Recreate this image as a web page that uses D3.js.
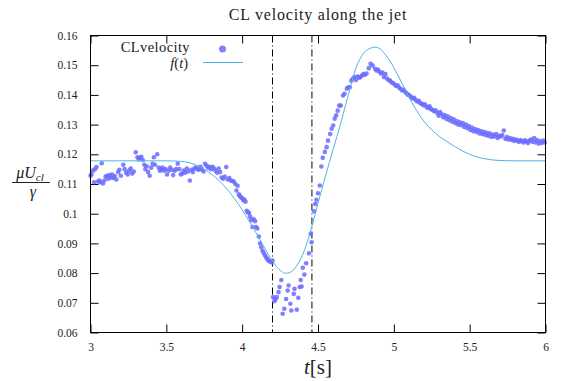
<!DOCTYPE html>
<html>
<head>
<meta charset="utf-8">
<script src="https://cdn.jsdelivr.net/npm/d3@7"></script>
<style>
  html, body { margin: 0; padding: 0; background: #fff; }
  svg { display: block; }
  text { font-family: "Liberation Serif", "DejaVu Serif", serif; fill: #222; }
</style>
</head>
<body>
<svg id="chart" width="561" height="381"></svg>
<script>
// Measured centre-line velocity (time in s, dimensionless velocity)
const timeData = [
  3.000,3.006,3.016,3.024,3.030,3.040,3.050,3.058,3.066,3.074,3.082,3.092,3.100,3.110,3.118,3.126,3.134,3.142,3.150,3.160,
  3.170,3.183,3.190,3.200,3.216,3.225,3.235,3.245,3.255,3.265,3.275,3.285,3.298,3.310,3.318,3.325,3.335,3.345,3.355,3.362,
  3.370,3.380,3.390,3.400,3.410,3.418,3.425,3.440,3.450,3.458,3.465,3.475,3.485,3.495,3.505,3.515,3.525,3.535,3.545,3.555,
  3.565,3.575,3.585,3.595,3.605,3.615,3.625,3.635,3.645,3.655,3.665,3.675,3.685,3.695,3.705,3.715,3.725,3.735,3.745,3.755,
  3.765,3.775,3.785,3.795,3.805,3.815,3.825,3.835,3.845,3.855,3.865,3.875,3.885,3.895,3.905,3.915,3.925,3.935,3.945,3.955,
  3.962,3.970,3.978,3.985,3.992,4.000,4.008,4.015,4.022,4.030,4.038,4.045,4.052,4.060,4.068,4.075,4.085,4.092,4.100,4.110,
  4.118,4.126,4.134,4.142,4.150,4.158,4.165,4.172,4.180,4.188,4.195,4.200,
  4.204,4.212,4.220,4.228,4.240,4.247,4.258,4.267,4.278,4.290,4.300,4.306,4.318,4.324,4.340,4.345,4.360,4.370,4.380,4.386,
  4.392,4.400,4.410,4.422,4.440,4.452,4.458,4.474,4.482,4.490,4.500,4.512,4.522,4.531,4.545,4.557,4.566,4.580,4.590,4.600,
  4.610,4.620,4.630,4.640,4.650,4.665,4.675,4.690,4.700,4.710,4.720,4.730,4.740,4.750,4.760,4.770,4.780,4.790,4.800,4.810,
  4.820,4.835,4.847,4.860,4.876,4.885,4.895,4.905,4.915,4.925,4.935,4.945,4.955,4.965,4.975,4.985,4.995,5.005,5.015,5.025,
  5.035,5.045,5.055,5.065,5.075,5.085,5.095,5.105,5.115,5.125,5.135,5.145,5.155,5.165,5.175,5.185,5.195,5.205,5.215,5.225,
  5.235,5.245,5.255,5.265,5.275,5.285,5.295,5.305,5.315,5.325,5.335,5.345,5.355,5.365,5.375,5.385,5.395,5.405,5.415,5.425,
  5.435,5.445,5.455,5.465,5.475,5.485,5.495,5.505,5.515,5.525,5.535,5.545,5.555,5.565,5.575,5.585,5.595,5.605,5.615,5.625,
  5.635,5.645,5.655,5.665,5.675,5.685,5.695,5.705,5.715,5.725,5.735,5.745,5.755,5.765,5.775,5.785,5.795,5.805,5.815,5.825,
  5.835,5.845,5.855,5.865,5.875,5.885,5.895,5.905,5.915,5.925,5.935,5.945,5.955,5.965,5.975,5.985,5.995
];
const velocityData = [
  0.1128,0.1132,0.1145,0.1106,0.1150,0.1157,0.1108,0.1112,0.1106,0.1170,0.1102,0.1112,0.1125,0.1128,0.1118,0.1130,0.1122,0.1132,0.1120,0.1127,
  0.1115,0.1140,0.1148,0.1128,0.1165,0.1150,0.1138,0.1132,0.1145,0.1152,0.1135,0.1142,0.1207,0.1190,0.1183,0.1188,0.1192,0.1181,0.1165,0.1150,
  0.1160,0.1140,0.1128,0.1155,0.1168,0.1190,0.1165,0.1200,0.1155,0.1145,0.1150,0.1155,0.1145,0.1150,0.1132,0.1145,0.1155,0.1148,0.1130,0.1145,
  0.1150,0.1168,0.1150,0.1132,0.1135,0.1145,0.1138,0.1152,0.1142,0.1112,0.1148,0.1140,0.1152,0.1155,0.1150,0.1148,0.1158,0.1150,0.1142,0.1168,
  0.1162,0.1155,0.1158,0.1150,0.1158,0.1152,0.1145,0.1138,0.1152,0.1140,0.1122,0.1118,0.1125,0.1157,0.1115,0.1120,0.1112,0.1110,0.1108,0.1100,
  0.1078,0.1094,0.1065,0.1060,0.1055,0.1052,0.1045,0.1048,0.1040,0.1010,0.1005,0.1002,0.0990,0.0978,0.0955,0.0982,0.0975,0.0955,0.0950,0.0923,
  0.0900,0.0887,0.0875,0.0868,0.0860,0.0853,0.0848,0.0843,0.0840,0.0838,0.0836,0.0842,
  0.0719,0.0705,0.0712,0.0719,0.0736,0.0753,0.0777,0.0663,0.0680,0.0713,0.0741,0.0758,0.0697,0.0674,0.0730,0.0747,0.0677,0.0717,0.0753,0.0777,
  0.0755,0.0818,0.0795,0.0833,0.0867,0.0932,0.0904,0.1008,0.1033,0.1047,0.1069,0.1095,0.1159,0.1188,0.1208,0.1224,0.1246,0.1268,0.1286,0.1297,
  0.1320,0.1331,0.1347,0.1364,0.1364,0.1398,0.1404,0.1421,0.1426,0.1426,0.1448,0.1455,0.1460,0.1450,0.1462,0.1458,0.1460,0.1465,0.1470,0.1468,
  0.1472,0.1490,0.1505,0.1499,0.1488,0.1482,0.1485,0.1478,0.1472,0.1475,0.1460,0.1470,0.1455,0.1450,0.1448,0.1442,0.1440,0.1435,0.1430,0.1432,
  0.1425,0.1420,0.1415,0.1417,0.1410,0.1405,0.1400,0.1398,0.1392,0.1388,0.1390,0.1382,0.1378,0.1380,0.1372,0.1370,0.1365,0.1368,0.1360,0.1356,
  0.1362,0.1352,0.1350,0.1345,0.1348,0.1340,0.1330,0.1342,0.1335,0.1325,0.1332,0.1320,0.1328,0.1315,0.1322,0.1310,0.1318,0.1305,0.1312,0.1300,
  0.1308,0.1298,0.1305,0.1292,0.1300,0.1288,0.1295,0.1282,0.1290,0.1278,0.1285,0.1275,0.1282,0.1270,0.1278,0.1268,0.1275,0.1265,0.1272,0.1262,
  0.1270,0.1258,0.1266,0.1260,0.1268,0.1255,0.1262,0.1260,0.1265,0.1280,0.1252,0.1258,0.1250,0.1255,0.1248,0.1252,0.1245,0.1250,0.1246,0.1242,
  0.1248,0.1244,0.1240,0.1247,0.1243,0.1238,0.1246,0.1250,0.1242,0.1255,0.1240,0.1248,0.1236,0.1244,0.1238,0.1246,0.1240
];

// Fitted model f(t)
const fitTime = [3.0,3.5,3.6,3.65,3.7,3.75,3.8,3.85,3.9,3.95,4.0,4.05,4.1,4.15,4.2,4.25,4.28,4.3,4.35,4.4,4.45,4.5,4.55,4.6,4.65,4.7,4.75,4.8,4.85,4.876,4.9,4.95,5.0,5.05,5.1,5.15,5.2,5.25,5.3,5.35,5.4,5.45,5.5,5.55,5.6,5.65,5.7,5.8,6.0];
const fitValue = [0.1178,0.1178,0.1176,0.1172,0.1163,0.1150,0.1132,0.1110,0.1083,0.1050,0.1013,0.0972,0.0928,0.0883,0.0840,0.0810,0.0800,0.0800,0.0818,0.0863,0.0940,0.1035,0.1128,0.1217,0.1305,0.1400,0.1490,0.1540,0.1558,0.1561,0.1558,0.1532,0.1492,0.1443,0.1392,0.1348,0.1310,0.1282,0.1260,0.1243,0.1227,0.1212,0.1200,0.1191,0.1185,0.1181,0.1179,0.1178,0.1178];

// Event markers (s)
const markerTimes = [4.2, 4.46];

const xTicks = [3, 3.5, 4, 4.5, 5, 5.5, 6];
const xTickLabels = ["3", "3.5", "4", "4.5", "5", "5.5", "6"];
const yTicks = [0.06, 0.07, 0.08, 0.09, 0.1, 0.11, 0.12, 0.13, 0.14, 0.15, 0.16];
const yTickLabels = ["0.06", "0.07", "0.08", "0.09", "0.1", "0.11", "0.12", "0.13", "0.14", "0.15", "0.16"];

const svg = d3.select("#chart");
const plotLeft = 90.5, plotRight = 545.5, plotTop = 35.5, plotBottom = 332.5;

const x = d3.scaleLinear().domain([3, 6]).range([plotLeft, plotRight]);
const y = d3.scaleLinear().domain([0.06, 0.16]).range([plotBottom, plotTop]);

const pointColor = "#6b6bff";
const fitColor = "#4fb3e8";

// Axes with inward ticks on all four sides
const tickLen = 8;
svg.append("g").attr("transform", `translate(0,${plotBottom})`)
  .call(d3.axisBottom(x).tickValues(xTicks).tickSize(-tickLen).tickSizeOuter(0).tickPadding(10)
    .tickFormat((d, i) => xTickLabels[i]))
  .call(g => g.select(".domain").remove())
  .call(g => g.selectAll("text").attr("font-size", 11.5).attr("fill", "#222"));
svg.append("g").attr("transform", `translate(0,${plotTop})`)
  .call(d3.axisTop(x).tickValues(xTicks).tickSize(-tickLen).tickSizeOuter(0).tickFormat(""))
  .call(g => g.select(".domain").remove());
svg.append("g").attr("transform", `translate(${plotLeft},0)`)
  .call(d3.axisLeft(y).tickValues(yTicks).tickSize(-tickLen).tickSizeOuter(0).tickPadding(13)
    .tickFormat((d, i) => yTickLabels[i]))
  .call(g => g.select(".domain").remove())
  .call(g => g.selectAll("text").attr("font-size", 11.5).attr("fill", "#222"));
svg.append("g").attr("transform", `translate(${plotRight},0)`)
  .call(d3.axisRight(y).tickValues(yTicks).tickSize(-tickLen).tickSizeOuter(0).tickFormat(""))
  .call(g => g.select(".domain").remove());

// Marker lines
svg.append("g").selectAll("line").data(markerTimes).join("line")
  .attr("x1", d => x(d)).attr("x2", d => x(d))
  .attr("y1", plotTop).attr("y2", plotBottom)
  .attr("stroke", "#000").attr("stroke-width", 1)
  .attr("stroke-dasharray", "7,3,1,3");

// Scatter points
const pts = d3.zip(timeData, velocityData);
svg.append("g").selectAll("circle").data(pts).join("circle")
  .attr("cx", d => x(d[0])).attr("cy", d => y(d[1])).attr("r", 2.3)
  .attr("fill", pointColor).attr("fill-opacity", 0.85);

// Fit curve
const fit = d3.zip(fitTime, fitValue);
svg.append("path").datum(fit)
  .attr("fill", "none").attr("stroke", fitColor).attr("stroke-width", 1)
  .attr("d", d3.line().x(d => x(d[0])).y(d => y(d[1])).curve(d3.curveMonotoneX));

// Frame
svg.append("rect").attr("x", plotLeft).attr("y", plotTop)
  .attr("width", plotRight - plotLeft).attr("height", plotBottom - plotTop)
  .attr("fill", "none").attr("stroke", "#000").attr("stroke-width", 1);

// Title
svg.append("text").attr("x", (plotLeft + plotRight) / 2).attr("y", 20)
  .attr("text-anchor", "middle").attr("font-size", 16).attr("letter-spacing", 0.8)
  .text("CL velocity along the jet");

// Legend
svg.append("text").attr("x", 190).attr("y", 52).attr("text-anchor", "end")
  .attr("font-size", 14.5).attr("letter-spacing", 0.4).text("CLvelocity");
svg.append("circle").attr("cx", 222.5).attr("cy", 49).attr("r", 3.5)
  .attr("fill", pointColor).attr("fill-opacity", 0.85);
const ft = svg.append("text").attr("x", 188).attr("y", 68).attr("text-anchor", "end")
  .attr("font-size", 14.5);
ft.append("tspan").attr("font-style", "italic").text("f");
ft.append("tspan").text("(");
ft.append("tspan").attr("font-style", "italic").text("t");
ft.append("tspan").text(")");
svg.append("line").attr("x1", 203).attr("x2", 243).attr("y1", 62.5).attr("y2", 62.5)
  .attr("stroke", fitColor).attr("stroke-width", 1);

// X axis label
const xl = svg.append("text").attr("x", (plotLeft + plotRight) / 2).attr("y", 374)
  .attr("text-anchor", "middle").attr("font-size", 21);
xl.append("tspan").attr("font-style", "italic").text("t");
xl.append("tspan").text("[s]");

// Y axis label: fraction mu U_cl / gamma
const yl = svg.append("g");
const num = yl.append("text").attr("x", 30).attr("y", 178).attr("text-anchor", "middle").attr("font-size", 16);
num.append("tspan").attr("font-style", "italic").text("μU");
num.append("tspan").attr("font-style", "italic").attr("font-size", 11).attr("dy", 3).text("cl");
yl.append("line").attr("x1", 12).attr("x2", 50).attr("y1", 182.5).attr("y2", 182.5)
  .attr("stroke", "#222").attr("stroke-width", 1);
yl.append("text").attr("x", 33).attr("y", 197).attr("text-anchor", "middle")
  .attr("font-size", 16).attr("font-style", "italic").text("γ");
</script>
</body>
</html>
